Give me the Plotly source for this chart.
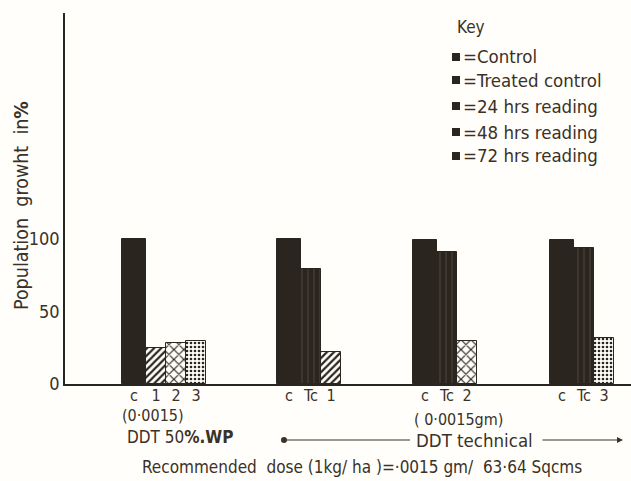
import plotly.graph_objects as go

# ---------------- data ----------------
g1_labels = ["c", "1", "2", "3"]
g2_labels = ["c", "Tc", "1"]
g3_labels = ["c", "Tc", "2"]
g4_labels = ["c", "Tc", "3"]

g1_series = ["Control", "24 hrs reading", "48 hrs reading", "72 hrs reading"]
g2_series = ["Control", "Treated control", "24 hrs reading"]
g3_series = ["Control", "Treated control", "48 hrs reading"]
g4_series = ["Control", "Treated control", "72 hrs reading"]

g1_values = [100, 25, 28, 30]
g2_values = [100, 79, 22]
g3_values = [99, 91, 30]
g4_values = [99, 94, 32]

series_names = ["Control", "Treated control", "24 hrs reading", "48 hrs reading", "72 hrs reading"]
y_ticks = [0, 50, 100]

# ---------------- layout constants ----------------
W, H = 631, 481
L, R, T, B = 65, 0, 13, 97
PW = W - L - R
PH = H - T - B
YMAX = 255.9
INK = "#2b251f"
TXT = "#3a3128"
BG = "#fffefa"
FONT = "Liberation Sans Narrow, DejaVu Sans Condensed, Roboto Condensed, Liberation Sans, sans-serif"

group_starts = [57, 212, 348, 485]   # x-axis units (1 unit = 1 px)
ctrl_w, other_w = 24, 20

styles = {
    "Control": dict(color=INK),
    "Treated control": dict(color=INK, pattern=dict(shape="|", bgcolor=INK, fgcolor="#8d857a",
                                                     size=6, solidity=0.12, fillmode="overlay")),
    "24 hrs reading": dict(color=INK, pattern=dict(shape="/", bgcolor=BG, fgcolor=INK,
                                                    size=5, solidity=0.45, fillmode="replace")),
    "48 hrs reading": dict(color=INK, pattern=dict(shape="x", bgcolor=BG, fgcolor=INK,
                                                    size=7, solidity=0.3, fillmode="replace")),
    "72 hrs reading": dict(color=INK, pattern=dict(shape=".", bgcolor=BG, fgcolor=INK,
                                                    size=4, solidity=0.35, fillmode="replace")),
}

groups = [(g1_labels, g1_series, g1_values), (g2_labels, g2_series, g2_values),
          (g3_labels, g3_series, g3_values), (g4_labels, g4_series, g4_values)]

bars = {s: dict(x=[], y=[], w=[]) for s in series_names}
tickvals, ticktext = [], []
for start, (labels, series, values) in zip(group_starts, groups):
    pos = start
    for lab, s, v in zip(labels, series, values):
        w = ctrl_w if s == "Control" else other_w
        c = pos + w / 2
        bars[s]["x"].append(c)
        bars[s]["y"].append(v)
        bars[s]["w"].append(w)
        tickvals.append(c)
        ticktext.append(lab)
        pos += w

fig = go.Figure()
for s in series_names:
    st = styles[s]
    marker = dict(color=st["color"], line=dict(color=INK, width=1))
    if "pattern" in st:
        marker["pattern"] = st["pattern"]
    fig.add_trace(go.Bar(x=bars[s]["x"], y=bars[s]["y"], width=bars[s]["w"], name=s,
                         marker=marker, showlegend=False, hoverinfo="skip"))


def px(xp):
    return (xp - L) / PW


def py(yp):
    return (H - B - yp) / PH


ann = []
shapes = []


def text(x, y, t, size=17, xanchor="center", **kw):
    ann.append(dict(x=px(x), y=py(y), xref="paper", yref="paper", text=t, showarrow=False,
                    xanchor=xanchor, yanchor="middle",
                    font=dict(size=size, color=TXT, family=FONT), **kw))


# y title
text(21, 206, "Population  growht  in<b>%</b>", size=19.5, textangle=-90)

# key
text(455, 27, "Key", size=17, xanchor="left")
key_rows = [57, 80, 106, 132, 156]
for s, yy in zip(series_names, key_rows):
    shapes.append(dict(type="rect", xref="paper", yref="paper", x0=px(452), x1=px(460),
                       y0=py(yy + 4), y1=py(yy - 4), fillcolor=INK, line=dict(width=0)))
    text(461, yy, "=" + s, size=18.5, xanchor="left")

# bottom annotations
text(153, 415, "(0·0015)", size=16)
text(180, 437, "DDT 50<b>%.WP</b>", size=17)
text(458, 419, "( 0·0015gm)", size=16)
text(474, 440, "DDT technical", size=18.5)
text(362, 467, "Recommended  dose (1kg/ ha )=·0015 gm/  63·64 Sqcms", size=17)

# arrow
shapes.append(dict(type="line", xref="paper", yref="paper", x0=px(284), x1=px(410),
                   y0=py(440), y1=py(440), line=dict(color=TXT, width=1.2)))
shapes.append(dict(type="circle", xref="paper", yref="paper", x0=px(281), x1=px(287),
                   y0=py(443), y1=py(437), fillcolor=TXT, line=dict(width=0)))
ann.append(dict(x=px(623), y=py(440), xref="paper", yref="paper", text="", showarrow=True,
                ax=-82, ay=0, arrowhead=2, arrowsize=1, arrowwidth=1.2, arrowcolor=TXT))

fig.update_layout(
    width=W, height=H,
    margin=dict(l=L, r=R, t=T, b=B, pad=0),
    paper_bgcolor=BG, plot_bgcolor=BG,
    bargap=0,
    font=dict(family=FONT, color=TXT, size=17),
    annotations=ann, shapes=shapes,
    xaxis=dict(range=[0, PW], tickvals=tickvals, ticktext=ticktext, showline=True,
               linecolor=INK, linewidth=1.5, showgrid=False, zeroline=False, ticks="",
               ticklabelstandoff=-4, tickfont=dict(size=16, color=TXT)),
    yaxis=dict(range=[0, YMAX], tickvals=y_ticks, showline=True, linecolor=INK, linewidth=1.5,
               showgrid=False, zeroline=False, ticks="", tickfont=dict(size=18, color=TXT)),
)

fig.write_html("out.html", config={"displayModeBar": False},
               post_script="document.body.style.margin='0';document.body.style.background='#fffefa';")
